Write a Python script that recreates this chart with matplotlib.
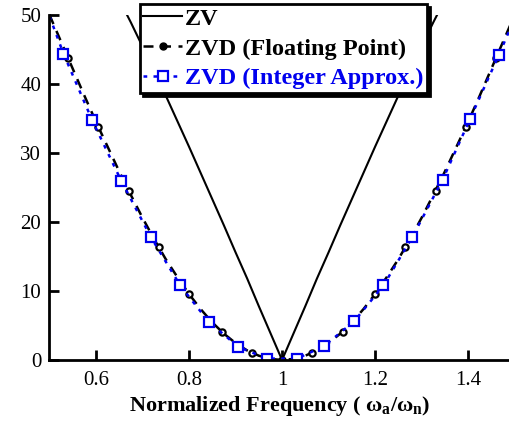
import matplotlib
matplotlib.use("Agg")
import matplotlib.pyplot as plt
from matplotlib.lines import Line2D

plt.rcParams['font.family'] = ['Liberation Serif', 'DejaVu Serif']
plt.rcParams['mathtext.fontset'] = 'custom'
plt.rcParams['mathtext.rm'] = 'Liberation Serif:bold'
plt.rcParams['mathtext.it'] = 'Liberation Serif:bold'
plt.rcParams['mathtext.bf'] = 'Liberation Serif:bold'

# 数据：归一化频率 与 残余振动 (%)
freq = [0.500, 0.525, 0.550, 0.575, 0.600, 0.625, 0.650, 0.675, 0.700, 0.725,
        0.750, 0.775, 0.800, 0.825, 0.850, 0.875, 0.900, 0.925, 0.950, 0.975,
        1.000, 1.025, 1.050, 1.075, 1.100, 1.125, 1.150, 1.175, 1.200, 1.225,
        1.250, 1.275, 1.300, 1.325, 1.350, 1.375, 1.400, 1.425, 1.450, 1.475,
        1.500]
zv = [70.7, 67.9, 64.9, 61.9, 58.8, 55.6, 52.2, 48.9, 45.4, 41.9,
      38.3, 34.6, 30.9, 27.1, 23.3, 19.5, 15.6, 11.8, 7.8, 3.9,
      0.0, 3.9, 7.8, 11.8, 15.6, 19.5, 23.3, 27.1, 30.9, 34.6,
      38.3, 41.9, 45.4, 48.9, 52.2, 55.6, 58.8, 61.9, 64.9, 67.9,
      70.7]
zvd_float = [50.0, 46.1, 42.2, 38.3, 34.5, 30.9, 27.3, 23.9, 20.6, 17.5,
             14.6, 12.0, 9.55, 7.37, 5.44, 3.81, 2.45, 1.38, 0.62, 0.15,
             0.0, 0.15, 0.62, 1.38, 2.45, 3.81, 5.44, 7.37, 9.55, 12.0,
             14.6, 17.5, 20.6, 23.9, 27.3, 30.9, 34.5, 38.3, 42.2, 46.1,
             50.0]

float_mk_x = [0.54, 0.605, 0.67, 0.735, 0.80, 0.87, 0.935, 1.0,
              1.065, 1.13, 1.20, 1.265, 1.33, 1.395, 1.46]
float_mk_y = [43.7, 33.8, 24.5, 16.3, 9.55, 4.1, 1.04, 0.0,
              1.04, 4.1, 9.55, 16.3, 24.5, 33.8, 43.7]

int_x = [0.50, 0.53, 0.592, 0.654, 0.718, 0.781, 0.842, 0.906, 0.967,
         1.032, 1.09, 1.155, 1.218, 1.28, 1.345, 1.404, 1.466, 1.50]
int_y = [49.8, 44.4, 34.7, 26.0, 17.8, 10.8, 5.55, 1.9, 0.2,
         0.2, 2.0, 5.6, 10.8, 17.8, 26.1, 34.9, 44.2, 49.5]

blue = '#0000ee'

fig = plt.figure(figsize=(5.1, 4.25), dpi=100)
ax = fig.add_axes([0.097, 0.153, 0.903, 0.812])

ax.plot(freq, zv, color='black', lw=1.5)
ax.plot(freq, zvd_float, color='black', lw=1.8, ls=(0, (4, 3)))
ax.plot(float_mk_x, float_mk_y, ls='none', marker='o', ms=4.5,
        mfc='white', mec='black', mew=1.6)
ax.plot(int_x, int_y, color=blue, lw=1.8, ls=(0, (1.5, 2.5)))
ax.plot(int_x[1:-1], int_y[1:-1], ls='none', marker='s', ms=6.5,
        mfc='white', mec=blue, mew=1.6)

ax.set_xlim(0.5, 1.49)
ax.set_ylim(0, 50)
ax.set_xticks([0.6, 0.8, 1.0, 1.2, 1.4])
ax.set_xticklabels(['0.6', '0.8', '1', '1.2', '1.4'])
ax.set_yticks([0, 10, 20, 30, 40, 50])
ax.tick_params(direction='in', length=7, width=2, labelsize=15, pad=8)
ax.tick_params(axis='y', pad=6)
for s in ['top', 'right']:
    ax.spines[s].set_visible(False)
for s in ['left', 'bottom']:
    ax.spines[s].set_linewidth(2)

ax.set_xlabel(r'Normalized Frequency ( $\omega_a/\omega_n$)',
              fontsize=16, fontweight='bold', labelpad=3)

handles = [
    Line2D([], [], color='black', lw=1.5),
    Line2D([], [], color='black', lw=1.8, ls=(0, (4, 3)), marker='o', ms=5,
           mfc='black', mec='black'),
    Line2D([], [], color=blue, lw=1.8, ls=(0, (1.5, 2.5)), marker='s', ms=7,
           mfc='white', mec=blue, mew=1.6),
]
labels = ['ZV', 'ZVD (Floating Point)', 'ZVD (Integer Approx.)']
leg = fig.legend(handles, labels, loc='upper left', bbox_to_anchor=(0.274, 0.99),
                 prop={'weight': 'bold', 'size': 17.5}, labelcolor=['black', 'black', blue],
                 fancybox=False, framealpha=1, edgecolor='black', numpoints=1,
                 handlelength=1.6, handletextpad=0.1, labelspacing=0.32,
                 borderpad=0.15, borderaxespad=0,
                 shadow={'color': 'black', 'alpha': 1})
leg.get_frame().set_linewidth(2)

fig.savefig('out.png', dpi=100)
